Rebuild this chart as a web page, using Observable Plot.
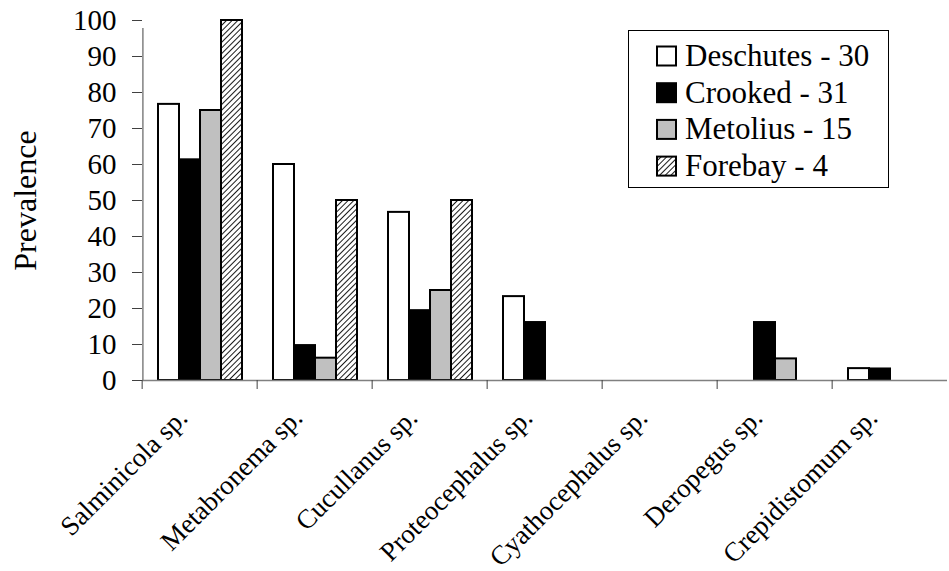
<!DOCTYPE html>
<html><head><meta charset="utf-8">
<script src="https://cdn.jsdelivr.net/npm/d3@7"></script>
<script src="https://cdn.jsdelivr.net/npm/@observablehq/plot@0.6"></script>
<style>
body{margin:0;background:#fff;font-family:"Liberation Serif","Times New Roman",serif}
#wrap{position:relative;width:949px;height:571px}
#legend{position:absolute;left:0;top:0}
</style>
</head><body>
<svg width="0" height="0" style="position:absolute">
<defs>
<pattern id="hatch" width="4" height="4" patternUnits="userSpaceOnUse" patternTransform="rotate(45)">
<rect width="4" height="4" fill="white"/>
<line x1="0" y1="0" x2="0" y2="4" stroke="black" stroke-width="1.8"/>
</pattern>
</defs>
</svg>
<div id="wrap"></div>
<script>
const categories = ["Salminicola sp.", "Metabronema sp.", "Cucullanus sp.", "Proteocephalus sp.", "Cyathocephalus sp.", "Deropegus sp.", "Crepidistomum sp."];
const series = ["Deschutes", "Crooked", "Metolius", "Forebay"];
const sampleSizes = [30, 31, 15, 4];
const deschutes = [76.7, 60, 46.7, 23.3, 0, 0, 3.3];
const crooked   = [61.3, 9.7, 19.4, 16.1, 0, 16.1, 3.2];
const metolius  = [75, 6.2, 25, 0, 0, 6.0, 0];
const forebay   = [100, 50, 50, 0, 0, 0, 0];
const yTicks = [0, 10, 20, 30, 40, 50, 60, 70, 80, 90, 100];
const yTitle = "Prevalence";
const fills = ["white", "black", "#c0c0c0", "url(#hatch)"];

const valuesBySeries = [deschutes, crooked, metolius, forebay];
const data = categories.flatMap((c, i) => series.map((s, j) => ({category: c, series: s, value: valuesBySeries[j][i]})))
  .filter(d => d.value > 0);

const W = 949, H = 571, ML = 139, MR = 0, MT = 20, MB = 191;
const bandW = (W - ML - MR) / categories.length;
const font = '"Liberation Serif","Times New Roman",serif';

const plot = Plot.plot({
  width: W, height: H, marginLeft: ML, marginRight: MR, marginTop: MT, marginBottom: MB,
  style: {fontFamily: font, fontSize: "27px", background: "white", color: "black"},
  fx: {domain: categories, padding: 0, axis: null},
  x: {domain: series, paddingInner: 0, paddingOuter: 0.7, axis: null},
  y: {domain: [0, 100], axis: null},
  color: {domain: series, range: fills},
  marks: [
    Plot.barY(data, {fx: "category", x: "series", y: "value", fill: "series", stroke: "black", strokeWidth: 2}),
    Plot.ruleY([0], {stroke: "#808080", strokeWidth: 1.5}),
    Plot.ruleX([yTitle], {fx: () => categories[0], x: null, y1: 0, y2: 100, dx: -bandW / 2 + 0.75, insetBottom: -8, stroke: "#808080", strokeWidth: 1.5}),
    Plot.axisY({ticks: yTicks, tickSize: 10, tickPadding: 16, fontSize: 29, fontFamily: font, stroke: "#404040", label: null}),
    Plot.text([yTitle], {fx: () => categories[0], text: d => d, frameAnchor: "left", dx: -129, rotate: -90,
      lineAnchor: "top", textAnchor: "middle", fontSize: 32, fontFamily: font, fill: "black"}),
    Plot.axisFx({anchor: "bottom", tickSize: 9, tickFormat: () => "", label: null, dx: -bandW / 2, stroke: "#404040"}),
    Plot.text(categories, {fx: d => d, text: d => d, frameAnchor: "bottom", rotate: -45,
      textAnchor: "end", lineAnchor: "bottom", dx: -11, dy: 39, fontSize: 27, fontFamily: font, fill: "black"})
  ]
});
document.getElementById("wrap").appendChild(plot);

// Legend overlay
const lg = d3.select("#wrap").append("svg").attr("id", "legend").attr("width", W).attr("height", H)
  .style("pointer-events", "none");
lg.append("rect").attr("x", 628.5).attr("y", 30.5).attr("width", 260).attr("height", 157)
  .attr("fill", "white").attr("stroke", "black").attr("stroke-width", 1);
const rows = lg.selectAll("g.row").data(series).join("g").attr("class", "row")
  .attr("transform", (d, i) => `translate(0,${i * 36.7})`);
rows.append("rect").attr("x", 657).attr("y", 46.5).attr("width", 19).attr("height", 19)
  .attr("fill", (d, i) => fills[i]).attr("stroke", "black").attr("stroke-width", 2);
rows.append("text").attr("x", 685).attr("y", 66).style("font-family", font).attr("font-size", 31)
  .text((d, i) => `${d} - ${sampleSizes[i]}`);
</script>
</body></html>
